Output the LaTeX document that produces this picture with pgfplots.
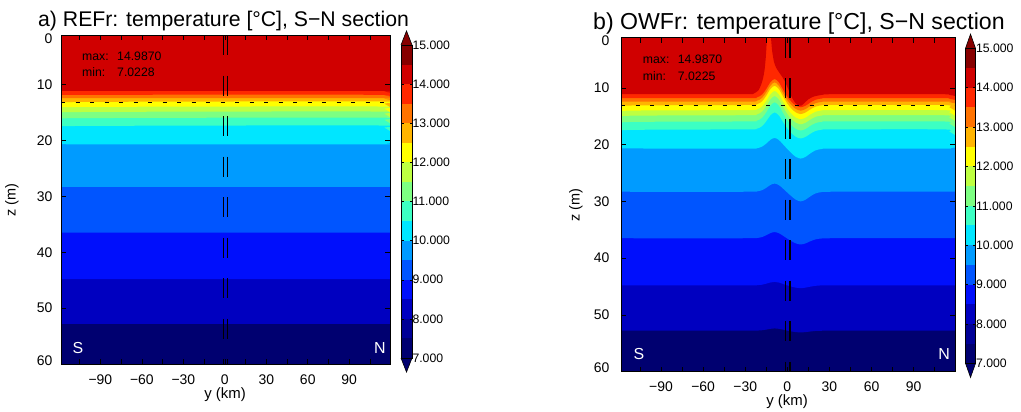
\documentclass[border=0pt]{standalone}
\usepackage{fontspec}
\setmainfont{Liberation Sans}
\usepackage{pgfplots}
\pgfplotsset{compat=1.18}
\definecolor{k1}{RGB}{0,0,112}
\definecolor{k2}{RGB}{0,0,150}
\definecolor{k3}{RGB}{0,0,192}
\definecolor{k4}{RGB}{0,15,252}
\definecolor{k5}{RGB}{0,85,255}
\definecolor{k6}{RGB}{0,155,255}
\definecolor{k7}{RGB}{0,230,255}
\definecolor{k8}{RGB}{60,255,195}
\definecolor{k9}{RGB}{125,255,130}
\definecolor{k10}{RGB}{190,255,65}
\definecolor{k11}{RGB}{255,255,0}
\definecolor{k12}{RGB}{255,180,0}
\definecolor{k13}{RGB}{255,115,0}
\definecolor{k14}{RGB}{255,40,0}
\definecolor{k15}{RGB}{208,0,0}
\definecolor{k16}{RGB}{135,0,0}
\pgfplotsset{
  panel/.style={
    scale only axis, anchor=south west,
    xmin=-118.5, xmax=119.5, ymin=1.1, ymax=60, y dir=reverse,
    axis background/.style={fill=k1},
    xtick={-105,-90,...,105},
    xticklabels={,−90,,−60,,−30,,0,,30,,60,,90,},
    ytick={1.1,10,20,30,40,50,60},
    yticklabels={\raisebox{-3bp}[10bp][0bp]{0},10,20,30,40,50,\raisebox{4bp}[10bp][0bp]{60}},
    tick align=inside, major tick length=5bp,
    tick style={black, line width=0.6bp},
    axis line style={line width=0.9bp},
    ticklabel style={font=\fontsize{14}{16}\selectfont},
    xticklabel style={yshift=-7bp},
    axis on top,
  },
  lay/.style={draw=none, fill=#1, smooth},
  cbar/.style={
    scale only axis, anchor=south west,
    xmin=0, xmax=1, ymin=7, ymax=15,
    xtick=\empty, ytick={7,...,15},
    yticklabels={7.000,8.000,9.000,10.000,11.000,12.000,13.000,14.000,15.000},
    yticklabel pos=right,
    tick align=inside, major tick length=2.5bp,
    tick style={black, line width=0.5bp},
    axis line style={line width=0.8bp},
    ticklabel style={font=\fontsize{12.3}{14}\selectfont},
    yticklabel style={xshift=-3bp},
    clip=false, axis on top,
  },
  bin/.style={draw=none, fill=#1},
}
\begin{document}
\begin{tikzpicture}[x=1bp,y=1bp]
\path[use as bounding box] (0,0) rectangle (1021,411);

% ---------------- panel a ----------------
\begin{axis}[panel, at={(61bp,47bp)}, width=329bp, height=329bp, yticklabel style={xshift=-5bp}]
\addplot[lay=k3] coordinates {(-118.5,52.8)(119.5,52.8)} \closedcycle;
\addplot[lay=k4] coordinates {(-118.5,44.8)(119.5,44.8)} \closedcycle;
\addplot[lay=k5] coordinates {(-118.5,36.5)(119.5,36.5)} \closedcycle;
\addplot[lay=k6] coordinates {(-118.5,28.3)(119.5,28.3)} \closedcycle;
\addplot[lay=k7] coordinates {(-118.5,20.5)(-113,20.66)(110.5,20.7)(115.5,20.62)(119.5,20.5)} \closedcycle;
\addplot[lay=k8] coordinates {(-118.5,17.8)(-113,17.4)(110.5,17.3)(115.5,17.7)(119.5,18.3)} \closedcycle;
\addplot[lay=k9] coordinates {(-118.5,16.4)(-113,16.0)(110.5,15.9)(115.5,16.3)(119.5,16.9)} \closedcycle;
\addplot[lay=k10] coordinates {(-118.5,15.3)(-113,14.9)(110.5,14.8)(115.5,15.2)(119.5,15.8)} \closedcycle;
\addplot[lay=k11] coordinates {(-118.5,14.4)(-113,14.0)(110.5,13.9)(115.5,14.3)(119.5,14.9)} \closedcycle;
\addplot[lay=k12] coordinates {(-118.5,13.5)(-113,13.1)(110.5,13.0)(115.5,13.4)(119.5,14.0)} \closedcycle;
\addplot[lay=k13] coordinates {(-118.5,12.4)(-113,12.4)(110.5,12.4)(115.5,12.52)(119.5,12.7)} \closedcycle;
\addplot[lay=k14] coordinates {(-118.5,11.8)(-113,11.8)(110.5,11.8)(115.5,11.92)(119.5,12.1)} \closedcycle;
\addplot[lay=k15] coordinates {(-118.5,11.1)(-113,11.1)(110.5,11.1)(115.5,11.22)(119.5,11.4)} \closedcycle;
\addplot[black, line width=0.7bp, dash pattern=on 4bp off 10.5bp] coordinates {(-118.5,13.1)(119.5,13.1)};
\addplot[black, line width=1.1bp, dash pattern=on 20bp off 20.5bp] coordinates {(-1.2,1.1)(-1.2,60)};
\addplot[black, line width=1.1bp, dash pattern=on 20bp off 20.5bp] coordinates {(1.9,1.1)(1.9,60)};
\end{axis}
\begin{axis}[cbar, at={(401bp,53bp)}, width=11bp, height=313bp]
\addplot[bin=k1] coordinates {(0,7)(1,7)(1,7.5)(0,7.5)};
\addplot[bin=k2] coordinates {(0,7.5)(1,7.5)(1,8)(0,8)};
\addplot[bin=k3] coordinates {(0,8)(1,8)(1,8.5)(0,8.5)};
\addplot[bin=k4] coordinates {(0,8.5)(1,8.5)(1,9)(0,9)};
\addplot[bin=k5] coordinates {(0,9)(1,9)(1,9.5)(0,9.5)};
\addplot[bin=k6] coordinates {(0,9.5)(1,9.5)(1,10)(0,10)};
\addplot[bin=k7] coordinates {(0,10)(1,10)(1,10.5)(0,10.5)};
\addplot[bin=k8] coordinates {(0,10.5)(1,10.5)(1,11)(0,11)};
\addplot[bin=k9] coordinates {(0,11)(1,11)(1,11.5)(0,11.5)};
\addplot[bin=k10] coordinates {(0,11.5)(1,11.5)(1,12)(0,12)};
\addplot[bin=k11] coordinates {(0,12)(1,12)(1,12.5)(0,12.5)};
\addplot[bin=k12] coordinates {(0,12.5)(1,12.5)(1,13)(0,13)};
\addplot[bin=k13] coordinates {(0,13)(1,13)(1,13.5)(0,13.5)};
\addplot[bin=k14] coordinates {(0,13.5)(1,13.5)(1,14)(0,14)};
\addplot[bin=k15] coordinates {(0,14)(1,14)(1,14.5)(0,14.5)};
\addplot[bin=k16] coordinates {(0,14.5)(1,14.5)(1,15)(0,15)};
\addplot[fill=k16, draw=black, line width=0.6bp] coordinates {(0,15)(0.5,15.36)(1,15)};
\addplot[fill=k1, draw=black, line width=0.6bp] coordinates {(0,7)(0.5,6.64)(1,7)};
\end{axis}

% ---------------- panel b ----------------
\begin{axis}[panel, at={(621bp,39.5bp)}, width=334bp, height=334bp, yticklabel style={xshift=-8bp}]
\addplot[lay=k3] coordinates {(-118.5,52.8)(-30,52.8)(-22,52.79)(-18,52.72)(-15,52.61)(-12,52.47)(-9,52.4)(-6,52.47)(-3,52.61)(0,52.8)(3,52.94)(6,53.05)(9.5,53.1)(13,53.05)(16,52.96)(20,52.85)(25,52.81)(32,52.8)(119.5,52.8)} \closedcycle;
\addplot[lay=k4] coordinates {(-118.5,44.8)(-30,44.8)(-22,44.78)(-18,44.69)(-15,44.51)(-12,44.3)(-9,44.2)(-6,44.31)(-3,44.56)(0,44.81)(3,45.03)(6,45.21)(9.5,45.3)(13,45.21)(16,45.06)(20,44.89)(25,44.81)(32,44.8)(119.5,44.8)} \closedcycle;
\addplot[lay=k5] coordinates {(-118.5,36.5)(-30,36.5)(-22,36.46)(-18,36.29)(-15,35.97)(-12,35.58)(-9,35.41)(-6,35.61)(-3,36.07)(0,36.56)(3,37.01)(6,37.4)(9.5,37.6)(13,37.41)(16,37.07)(20,36.7)(25,36.53)(32,36.5)(119.5,36.5)} \closedcycle;
\addplot[lay=k6] coordinates {(-118.5,28.3)(-30,28.3)(-22,28.25)(-18,28.02)(-15,27.6)(-12,27.09)(-9,26.86)(-6,27.13)(-3,27.75)(0,28.44)(3,29.1)(6,29.69)(9.5,30.0)(13,29.7)(16,29.18)(20,28.6)(25,28.34)(32,28.3)(119.5,28.3)} \closedcycle;
\addplot[lay=k7] coordinates {(-118.5,20.5)(-113,20.66)(-30,20.7)(-22,20.64)(-18,20.34)(-15,19.79)(-12,19.12)(-9,18.81)(-6,19.16)(-3,19.94)(0,20.76)(3,21.5)(6,22.13)(9.5,22.45)(13,22.15)(16,21.6)(20,21.01)(25,20.74)(32,20.7)(110.5,20.7)(115.5,20.62)(119.5,20.5)} \closedcycle;
\addplot[lay=k8] coordinates {(-118.5,17.8)(-113,17.4)(-30,17.3)(-22,17.2)(-18,16.73)(-15,15.86)(-12,14.8)(-9,14.31)(-6,14.84)(-3,16.0)(0,17.12)(3,17.97)(6,18.59)(9.5,18.9)(13,18.62)(16,18.13)(20,17.59)(25,17.34)(32,17.3)(110.5,17.3)(115.5,17.7)(119.5,18.3)} \closedcycle;
\addplot[lay=k9] coordinates {(-118.5,16.4)(-113,16.0)(-30,15.9)(-22,15.79)(-18,15.25)(-15,14.27)(-12,13.07)(-9,12.51)(-6,13.11)(-3,14.41)(0,15.64)(3,16.55)(6,17.19)(9.5,17.5)(13,17.22)(16,16.73)(20,16.19)(25,15.94)(32,15.9)(110.5,15.9)(115.5,16.3)(119.5,16.9)} \closedcycle;
\addplot[lay=k10] coordinates {(-118.5,15.3)(-113,14.9)(-30,14.8)(-22,14.69)(-18,14.15)(-15,13.17)(-12,11.97)(-9,11.41)(-6,12.01)(-3,13.31)(0,14.54)(3,15.45)(6,16.09)(9.5,16.4)(13,16.12)(16,15.63)(20,15.09)(25,14.84)(32,14.8)(110.5,14.8)(115.5,15.2)(119.5,15.8)} \closedcycle;
\addplot[lay=k11] coordinates {(-118.5,14.4)(-113,14.0)(-30,13.9)(-22,13.79)(-18,13.25)(-15,12.27)(-12,11.07)(-9,10.51)(-6,11.11)(-3,12.41)(0,13.64)(3,14.55)(6,15.19)(9.5,15.5)(13,15.22)(16,14.73)(20,14.19)(25,13.94)(32,13.9)(110.5,13.9)(115.5,14.3)(119.5,14.9)} \closedcycle;
\addplot[lay=k12] coordinates {(-118.5,13.5)(-113,13.1)(-30,13.0)(-22,12.89)(-18,12.35)(-15,11.37)(-12,10.17)(-9,9.61)(-6,10.21)(-3,11.51)(0,12.74)(3,13.65)(6,14.29)(9.5,14.6)(13,14.32)(16,13.83)(20,13.29)(25,13.04)(32,13.0)(110.5,13.0)(115.5,13.4)(119.5,14.0)} \closedcycle;
\addplot[lay=k13] coordinates {(-118.5,12.4)(-113,12.4)(-30,12.4)(-22,12.29)(-18,11.75)(-15,10.77)(-12,9.57)(-9,9.01)(-6,9.61)(-3,10.91)(0,12.14)(3,13.05)(6,13.69)(9.5,14.0)(13,13.72)(16,13.23)(20,12.69)(25,12.44)(32,12.4)(110.5,12.4)(115.5,12.52)(119.5,12.7)} \closedcycle;
\addplot[lay=k14] coordinates {(-118.5,11.8)(-113,11.8)(-30,11.8)(-22,11.69)(-18,11.15)(-15,10.17)(-12,8.97)(-9,8.41)(-6,9.01)(-3,10.31)(0,11.54)(3,12.45)(6,13.09)(9.5,13.4)(13,13.12)(16,12.63)(20,12.09)(25,11.84)(32,11.8)(110.5,11.8)(115.5,11.92)(119.5,12.1)} \closedcycle;
\addplot[draw=none, fill=k15, smooth, tension=0.3] coordinates {(-118.5,11.1)(-113,11.1)(-30,11.1)(-24,11.0)(-20.5,10.4)(-18.5,9.3)(-17.2,8.2)(-16.2,6.8)(-15.4,4.8)(-14.8,2.5)(-14.4,0.3)(-11.8,0.3)(-11.6,1.2)(-10.8,3.5)(-9.5,5.4)(-8,6.4)(-6,7.2)(-4,7.9)(-2,8.7)(0,9.8)(2,11.0)(4,12.0)(6,12.7)(8,13.1)(10,13.1)(12,12.7)(15,12.0)(19,11.5)(25,11.2)(32,11.1)(110.5,11.1)(115.5,11.22)(119.5,11.4)} \closedcycle;
\addplot[black, line width=0.7bp, dash pattern=on 4bp off 10.5bp] coordinates {(-118.5,13.1)(119.5,13.1)};
\addplot[black, line width=1.1bp, dash pattern=on 20bp off 20.5bp] coordinates {(-1.2,1.1)(-1.2,60)};
\addplot[black, line width=1.1bp, dash pattern=on 20bp off 20.5bp] coordinates {(1.9,1.1)(1.9,60)};
\end{axis}
\begin{axis}[cbar, at={(965.5bp,47.7bp)}, width=10bp, height=315bp]
\addplot[bin=k1] coordinates {(0,7)(1,7)(1,7.5)(0,7.5)};
\addplot[bin=k2] coordinates {(0,7.5)(1,7.5)(1,8)(0,8)};
\addplot[bin=k3] coordinates {(0,8)(1,8)(1,8.5)(0,8.5)};
\addplot[bin=k4] coordinates {(0,8.5)(1,8.5)(1,9)(0,9)};
\addplot[bin=k5] coordinates {(0,9)(1,9)(1,9.5)(0,9.5)};
\addplot[bin=k6] coordinates {(0,9.5)(1,9.5)(1,10)(0,10)};
\addplot[bin=k7] coordinates {(0,10)(1,10)(1,10.5)(0,10.5)};
\addplot[bin=k8] coordinates {(0,10.5)(1,10.5)(1,11)(0,11)};
\addplot[bin=k9] coordinates {(0,11)(1,11)(1,11.5)(0,11.5)};
\addplot[bin=k10] coordinates {(0,11.5)(1,11.5)(1,12)(0,12)};
\addplot[bin=k11] coordinates {(0,12)(1,12)(1,12.5)(0,12.5)};
\addplot[bin=k12] coordinates {(0,12.5)(1,12.5)(1,13)(0,13)};
\addplot[bin=k13] coordinates {(0,13)(1,13)(1,13.5)(0,13.5)};
\addplot[bin=k14] coordinates {(0,13.5)(1,13.5)(1,14)(0,14)};
\addplot[bin=k15] coordinates {(0,14)(1,14)(1,14.5)(0,14.5)};
\addplot[bin=k16] coordinates {(0,14.5)(1,14.5)(1,15)(0,15)};
\addplot[fill=k16, draw=black, line width=0.6bp] coordinates {(0,15)(0.5,15.36)(1,15)};
\addplot[fill=k1, draw=black, line width=0.6bp] coordinates {(0,7)(0.5,6.64)(1,7)};
\end{axis}

% ---------------- texts ----------------
\node[anchor=base west, inner sep=0pt, font=\fontsize{21.3}{23}\selectfont] at (38,384.3) {a) REFr: temperature [°C], S−N section};
\node[anchor=base west, inner sep=0pt, font=\fontsize{23.2}{25}\selectfont] at (593,381.7) {b) OWFr: temperature [°C], S−N section};
\node[rotate=90, font=\fontsize{14.5}{16}\selectfont] at (12,211) {z (m)};
\node[rotate=90, font=\fontsize{14.5}{16}\selectfont] at (576,206) {z (m)};
\node[font=\fontsize{15}{16}\selectfont] at (225,16) {y (km)};
\node[font=\fontsize{15}{16}\selectfont] at (787,9.3) {y (km)};
\begin{scope}[every node/.style={anchor=base west, inner sep=0pt, font=\fontsize{12.3}{14}\selectfont}]
\node at (82,351) {max:}; \node at (117,351) {14.9870};
\node at (82,334.3) {min:}; \node at (117,334.3) {7.0228};
\node at (642.7,347.7) {max:}; \node at (677.7,347.7) {14.9870};
\node at (642.7,331) {min:}; \node at (677.7,331) {7.0225};
\end{scope}
\begin{scope}[every node/.style={text=white, inner sep=0pt, font=\fontsize{16}{18}\selectfont}]
\node at (78,63) {S}; \node at (380,63) {N};
\node at (639,57) {S}; \node at (944,57) {N};
\end{scope}
\end{tikzpicture}
\end{document}
